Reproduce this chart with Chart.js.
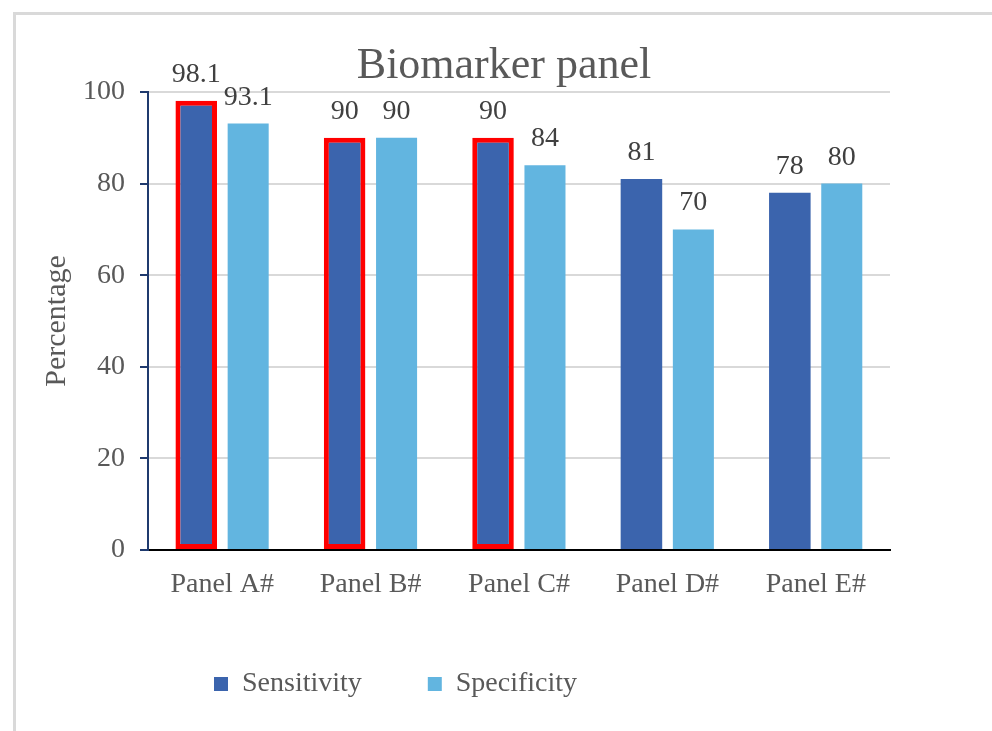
<!DOCTYPE html>
<html>
<head>
<meta charset="utf-8">
<script src="https://cdn.jsdelivr.net/npm/chart.js@4"></script>
<style>
  html, body { margin: 0; padding: 0; background: #fff; overflow: hidden; }
  #wrap { position: relative; width: 992px; height: 731px; }
  #frame { position: absolute; left: 13px; top: 12px; width: 1100px; height: 900px; border: 3px solid #d9d9d9; box-sizing: border-box; }
  canvas { position: absolute; left: 0; top: 0; }
</style>
</head>
<body>
<div id="wrap">
  <div id="frame"></div>
  <canvas id="biomarkerChart" width="992" height="731"></canvas>
</div>
<script>
const panels = ["Panel A#", "Panel B#", "Panel C#", "Panel D#", "Panel E#"];
const sensitivity = [98.1, 90, 90, 81, 78];
const specificity = [93.1, 90, 84, 70, 80];
const highlighted = [true, true, true, false, false];
const yTicks = [0, 20, 40, 60, 80, 100];

const serif = "'Liberation Serif', 'DejaVu Serif', serif";

const titlePlugin = {
  id: "panelTitle",
  afterDraw(chart) {
    const { ctx } = chart;
    ctx.save();
    ctx.font = "44px " + serif;
    ctx.fillStyle = "#595959";
    ctx.textAlign = "center";
    ctx.textBaseline = "alphabetic";
    ctx.fillText("Biomarker panel", 504, 78);
    ctx.restore();
  }
};

const valueLabels = {
  id: "valueLabels",
  afterDatasetsDraw(chart) {
    const { ctx } = chart;
    chart.data.datasets.forEach((dataset, i) => {
      const meta = chart.getDatasetMeta(i);
      meta.data.forEach((bar, index) => {
        ctx.save();
        ctx.font = "28px " + serif;
        ctx.fillStyle = "#404040";
        ctx.textAlign = "center";
        ctx.textBaseline = "alphabetic";
        ctx.fillText(dataset.data[index], bar.x, bar.y - 19);
        ctx.restore();
      });
    });
  }
};

new Chart(document.getElementById("biomarkerChart").getContext("2d"), {
  type: "bar",
  data: {
    labels: panels,
    datasets: [{
      label: "Sensitivity",
      data: sensitivity,
      backgroundColor: "#3b64ad",
      borderColor: ctx => highlighted[ctx.dataIndex] ? "#ff0000" : "#3b64ad",
      borderWidth: ctx => highlighted[ctx.dataIndex] ? 5 : 0,
      borderSkipped: false,
      categoryPercentage: 0.70,
      barPercentage: 0.80
    }, {
      label: "Specificity",
      data: specificity,
      backgroundColor: "#62b5e0",
      borderWidth: 0,
      categoryPercentage: 0.70,
      barPercentage: 0.79
    }]
  },
  options: {
    responsive: false,
    animation: false,
    layout: { padding: { top: 92, right: 102, bottom: 23, left: 0 } },
    plugins: {
      title: { display: false },
      tooltip: { enabled: false },
      legend: {
        position: "bottom",
        align: "start",
        fullSize: false,
        labels: {
          font: { family: serif, size: 28 },
          color: "#595959",
          boxWidth: 14,
          boxHeight: 14,
          padding: 66,
          generateLabels(chart) {
            return chart.data.datasets.map((ds, i) => ({
              text: ds.label,
              fillStyle: ds.backgroundColor,
              strokeStyle: ds.backgroundColor,
              lineWidth: 0,
              fontColor: "#595959",
              hidden: false,
              datasetIndex: i
            }));
          }
        }
      }
    },
    scales: {
      x: {
        grid: { display: false, drawTicks: false },
        border: { color: "#000000", width: 2 },
        ticks: {
          font: { family: serif, size: 28 },
          color: "#595959",
          padding: 18
        },
        afterFit(scale) { scale.height = 54; }
      },
      y: {
        min: 0,
        max: 100,
        afterBuildTicks(scale) { scale.ticks = yTicks.map(v => ({ value: v })); },
        grid: {
          color: "#d9d9d9",
          lineWidth: 2,
          drawTicks: true,
          tickLength: 8,
          tickColor: "#1f3a6e",
          tickWidth: 2
        },
        border: { color: "#1f3a6e", width: 2 },
        ticks: {
          font: { family: serif, size: 28 },
          color: "#595959",
          padding: 15
        },
        title: {
          display: true,
          text: "Percentage",
          font: { family: serif, size: 30 },
          color: "#595959",
          padding: { top: 39, bottom: 0 }
        },
        afterFit(scale) { scale.width = 148; }
      }
    }
  },
  plugins: [titlePlugin, valueLabels]
});
</script>
</body>
</html>
